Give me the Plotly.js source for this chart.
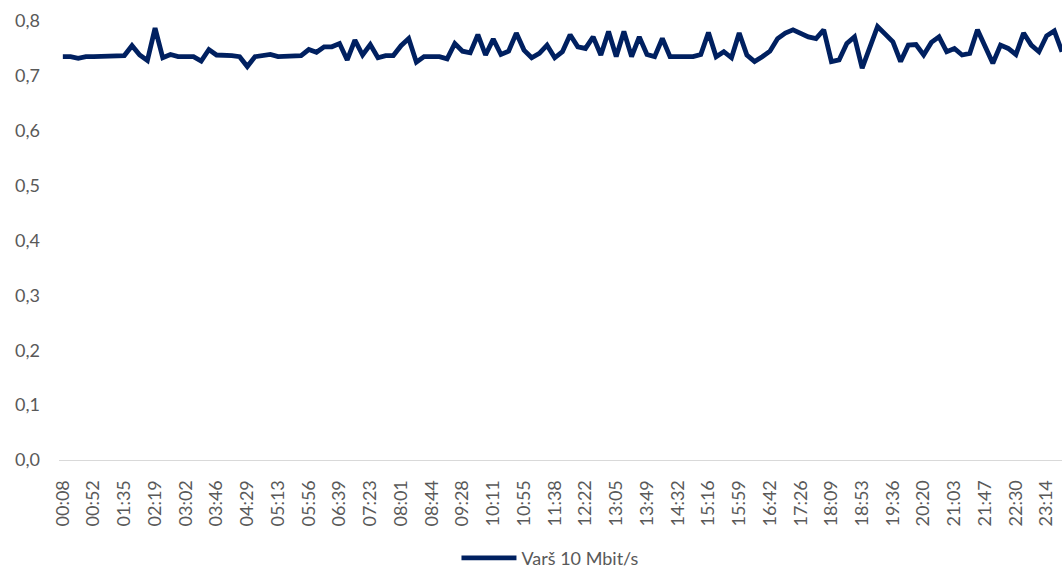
<!DOCTYPE html>
<html>
<head>
<meta charset="utf-8">
<script src="https://cdn.plot.ly/plotly-3.0.1.min.js"></script>
<style>html,body{margin:0;padding:0;background:#fff;}#chart{width:1062px;height:569px;}</style>
</head>
<body>
<div id="chart"></div>
<script>
var times = [
"00:08","00:19","00:30","00:41","00:52","01:03","01:14","01:24","01:35","01:46","01:57","02:08","02:19","02:30","02:41","02:51",
"03:02","03:13","03:24","03:35","03:46","03:57","04:08","04:18","04:29","04:40","04:51","05:02","05:13","05:24","05:35","05:45",
"05:56","06:07","06:18","06:28","06:39","06:50","07:01","07:12","07:23","07:32","07:42","07:51","08:01","08:12","08:23","08:33",
"08:44","08:55","09:06","09:17","09:28","09:39","09:50","10:00","10:11","10:22","10:33","10:44","10:55","11:06","11:17","11:27",
"11:38","11:49","12:00","12:11","12:22","12:33","12:44","12:54","13:05","13:16","13:27","13:38","13:49","14:00","14:11","14:21",
"14:32","14:43","14:54","15:05","15:16","15:27","15:38","15:48","15:59","16:10","16:21","16:31","16:42","16:53","17:04","17:15",
"17:26","17:37","17:48","17:58","18:09","18:20","18:31","18:42","18:53","19:04","19:15","19:25","19:36","19:47","19:58","20:09",
"20:20","20:31","20:42","20:52","21:03","21:14","21:25","21:36","21:47","21:58","22:09","22:19","22:30","22:41","22:52","23:03",
"23:14","23:25","23:36"
];
var values = [
0.735,0.735,0.732,0.735,0.735,0.735,0.735,0.735,0.737,0.755,0.738,0.728,0.787,0.733,0.739,0.735,0.735,0.735,0.727,0.748,0.738,0.738,
0.737,0.735,0.717,0.735,0.738,0.739,0.735,0.735,0.735,0.737,0.748,0.743,0.753,0.753,0.759,0.729,0.765,0.738,0.757,0.733,0.737,0.737,
0.755,0.768,0.725,0.735,0.735,0.735,0.731,0.759,0.745,0.742,0.775,0.738,0.767,0.739,0.745,0.778,0.747,0.733,0.741,0.756,0.733,0.744,
0.775,0.753,0.750,0.771,0.738,0.781,0.735,0.781,0.735,0.771,0.739,0.735,0.768,0.735,0.735,0.735,0.735,0.739,0.779,0.735,0.744,0.733,
0.778,0.738,0.726,0.735,0.745,0.768,0.778,0.784,0.778,0.771,0.768,0.784,0.726,0.729,0.759,0.771,0.714,0.753,0.790,0.776,0.762,
0.726,0.756,0.757,0.738,0.761,0.771,0.744,0.750,0.738,0.741,0.784,0.753,0.723,0.756,0.750,0.739,0.778,0.756,0.744,0.773,0.782,0.744
];
var tickLabels = ["00:08","00:52","01:35","02:19","03:02","03:46","04:29","05:13","05:56","06:39","07:23","08:01","08:44","09:28",
"10:11","10:55","11:38","12:22","13:05","13:49","14:32","15:16","15:59","16:42","17:26","18:09","18:53","19:36","20:20","21:03",
"21:47","22:30","23:14"];
var yTicks = [0,0.1,0.2,0.3,0.4,0.5,0.6,0.7,0.8];
var seriesName = "Varš 10 Mbit/s";

var font = "Lato, 'Open Sans', sans-serif";
var trace = {
  x: times, y: values, type: "scatter", mode: "lines", name: seriesName,
  line: {color: "#002060", width: 4.8}, cliponaxis: false
};
var layout = {
  width: 1062, height: 569,
  margin: {l: 59, r: 0, t: 21, b: 109, pad: 0},
  paper_bgcolor: "#ffffff", plot_bgcolor: "#ffffff",
  separators: ", ",
  font: {family: font, size: 18, color: "#595959"},
  showlegend: true,
  xaxis: {
    type: "category", range: [-0.5, times.length - 1],
    tickmode: "array", tickvals: tickLabels, ticktext: tickLabels,
    tickangle: -90, ticks: "", showgrid: false, zeroline: false,
    showline: true, linecolor: "#d9d9d9", linewidth: 1,
    ticklabelstandoff: 12, automargin: false,
    tickfont: {family: font, size: 18, color: "#595959"}
  },
  yaxis: {
    range: [0, 0.8], tickmode: "array", tickvals: yTicks, tickformat: ".1f",
    ticks: "", showgrid: false, zeroline: false, showline: false,
    ticklabelstandoff: 18, automargin: false,
    tickfont: {family: font, size: 18, color: "#595959"}
  },
  legend: {
    orientation: "h", xref: "paper", x: 0.49, xanchor: "center",
    yref: "container", y: 0.019, yanchor: "middle",
    itemwidth: 55,
    font: {family: font, size: 18, color: "#595959"}, bgcolor: "rgba(0,0,0,0)"
  }
};
Plotly.newPlot("chart", [trace], layout, {displayModeBar: false, staticPlot: true});
</script>
</body>
</html>
